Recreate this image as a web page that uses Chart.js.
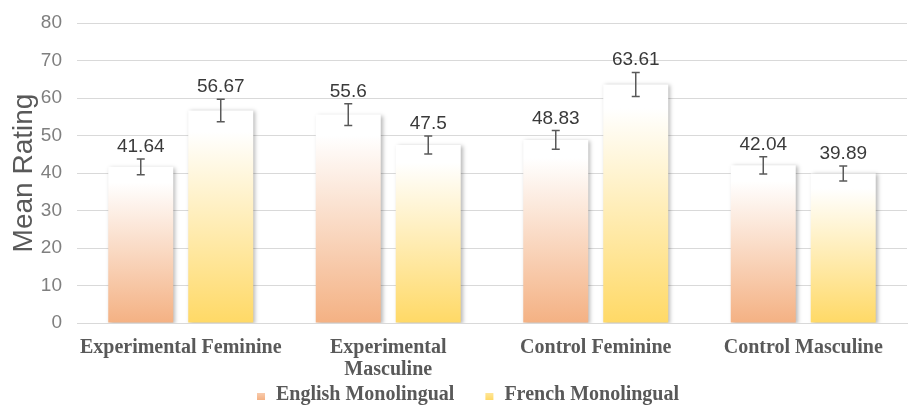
<!DOCTYPE html>
<html>
<head>
<meta charset="utf-8">
<script src="https://cdn.jsdelivr.net/npm/chart.js@4"></script>
<style>
  html, body { margin: 0; padding: 0; background: #fff; }
  #wrap { width: 914px; height: 411px; }
</style>
</head>
<body>
<div id="wrap"><canvas id="c" width="914" height="411"></canvas></div>
<script>
const categories = [
  "Experimental Feminine",
  ["Experimental", "Masculine"],
  "Control Feminine",
  "Control Masculine"
];
const seriesNames = ["English Monolingual", "French Monolingual"];
const englishValues = [41.64, 55.6, 48.83, 42.04];
const frenchValues = [56.67, 47.5, 63.61, 39.89];
const englishErrors = [2.1, 2.9, 2.5, 2.3];
const frenchErrors = [3.0, 2.4, 3.2, 2.0];
const yTicks = [0, 10, 20, 30, 40, 50, 60, 70, 80];

const seriesColors = ["#F4B183", "#FFD966"];
const legendColors = ["#F8CBAD", "#FFE699"];
const serifFont = '"Liberation Serif", "Times New Roman", serif';
const sansFont = '"Liberation Sans", Arial, sans-serif';

function gradientFill(colorIdx) {
  return function(ctx) {
    const chart = ctx.chart;
    const area = chart.chartArea;
    if (!area || ctx.type !== 'data') return legendColors[colorIdx];
    const y = chart.scales.y;
    const top = y.getPixelForValue(ctx.raw);
    const bottom = y.getPixelForValue(0);
    if (!isFinite(top) || !isFinite(bottom) || top === bottom) return legendColors[colorIdx];
    const g = chart.ctx.createLinearGradient(0, top, 0, bottom);
    g.addColorStop(0, "#FFFFFF");
    g.addColorStop(0.1, "#FFFFFF");
    g.addColorStop(1, seriesColors[colorIdx]);
    return g;
  };
}

const errorSets = [englishErrors, frenchErrors];

const shadowPlugin = {
  id: 'barShadow',
  beforeDatasetDraw(chart) {
    const c = chart.ctx;
    c.save();
    c.shadowColor = 'rgba(0,0,0,0.28)';
    c.shadowBlur = 4;
    c.shadowOffsetX = 2;
    c.shadowOffsetY = 1;
  },
  afterDatasetDraw(chart) {
    chart.ctx.restore();
  }
};

const errorAndLabelPlugin = {
  id: 'errLabels',
  afterDatasetsDraw(chart) {
    const c = chart.ctx;
    const yS = chart.scales.y;
    chart.data.datasets.forEach((ds, di) => {
      const meta = chart.getDatasetMeta(di);
      meta.data.forEach((bar, i) => {
        const v = ds.data[i];
        const e = errorSets[di][i];
        const x = bar.x;
        const yt = yS.getPixelForValue(v + e);
        const yb = yS.getPixelForValue(v - e);
        c.save();
        c.strokeStyle = '#595959';
        c.lineWidth = 1.5;
        c.beginPath();
        c.moveTo(x, yt); c.lineTo(x, yb);
        c.moveTo(x - 4, yt); c.lineTo(x + 4, yt);
        c.moveTo(x - 4, yb); c.lineTo(x + 4, yb);
        c.stroke();
        c.fillStyle = '#3a3a3a';
        c.font = '19px ' + sansFont;
        c.textAlign = 'center';
        c.textBaseline = 'alphabetic';
        c.fillText(String(v), x, yt - 7);
        c.restore();
      });
    });
  }
};

const legendPlugin = {
  id: 'customLegend',
  afterDraw(chart) {
    const c = chart.ctx;
    c.save();
    c.font = 'bold 20px ' + serifFont;
    c.textBaseline = 'alphabetic';
    c.textAlign = 'left';
    const baseline = 400;
    const mw = 8, mh = 7, gapText = 11, gapItems = 31;
    let x = 257;
    seriesNames.forEach((name, i) => {
      const g = c.createLinearGradient(0, baseline - mh, 0, baseline);
      g.addColorStop(0, legendColors[i]);
      g.addColorStop(1, seriesColors[i]);
      c.fillStyle = g;
      c.fillRect(x, baseline - mh, mw, mh);
      x += mw + gapText;
      c.fillStyle = '#595959';
      c.fillText(name, x, baseline);
      x += c.measureText(name).width + gapItems;
    });
    c.restore();
  }
};

new Chart(document.getElementById('c'), {
  type: 'bar',
  data: {
    labels: categories,
    datasets: [
      {
        label: seriesNames[0],
        data: englishValues,
        backgroundColor: gradientFill(0),
        borderWidth: 0,
        barPercentage: 0.8125,
        categoryPercentage: 0.771
      },
      {
        label: seriesNames[1],
        data: frenchValues,
        backgroundColor: gradientFill(1),
        borderWidth: 0,
        barPercentage: 0.8125,
        categoryPercentage: 0.771
      }
    ]
  },
  options: {
    responsive: false,
    animation: false,
    devicePixelRatio: 1,
    layout: { padding: { top: 23, right: 7, left: 0, bottom: 34 } },
    plugins: {
      tooltip: { enabled: false },
      legend: { display: false }
    },
    scales: {
      x: {
        afterFit(axis) { axis.height = 54; axis.paddingLeft = 0; axis.paddingRight = 0; },
        grid: { display: false },
        border: { display: true, color: '#d9d9d9' },
        ticks: {
          color: '#595959',
          font: { family: serifFont, size: 20, weight: 'bold', lineHeight: 1.1 },
          padding: 6,
          maxRotation: 0,
          autoSkip: false
        }
      },
      y: {
        min: 0,
        max: 80,
        afterFit(axis) { axis.width = 77; axis.paddingTop = 0; axis.paddingBottom = 0; },
        afterBuildTicks(axis) { axis.ticks = yTicks.map(v => ({ value: v })); },
        grid: { color: '#d9d9d9', lineWidth: 1, drawTicks: false },
        border: { display: false },
        ticks: {
          color: '#7f7f7f',
          font: { family: sansFont, size: 19 },
          padding: 15
        },
        title: {
          display: true,
          text: 'Mean Rating',
          color: '#595959',
          font: { family: sansFont, size: 28, lineHeight: 1.2 },
          padding: { top: 7, bottom: 3 }
        }
      }
    }
  },
  plugins: [shadowPlugin, errorAndLabelPlugin, legendPlugin]
});
</script>
</body>
</html>
